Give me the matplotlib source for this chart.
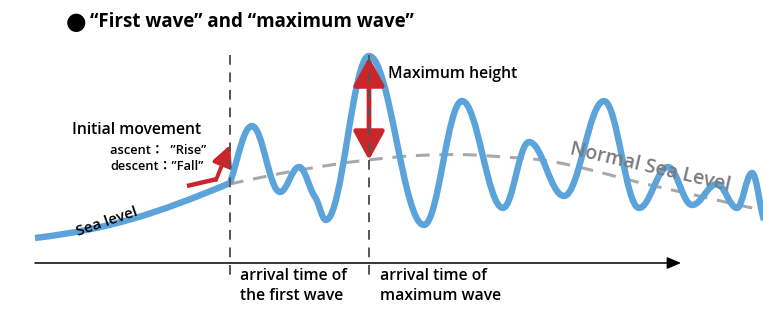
import matplotlib
matplotlib.use("Agg")
import matplotlib.pyplot as plt
from matplotlib.path import Path
from matplotlib.patches import PathPatch, FancyArrowPatch

plt.rcParams['font.family'] = ['Open Sans', 'Noto Sans CJK JP', 'DejaVu Sans']

# sea level before the first wave (pixel coords, y grows downward)
sea_x = [35, 230]
sea_y = [238, 183]
sea_slope = [-0.12, -0.42]

# tsunami wave: peaks and troughs
wave_x = [230, 252, 280, 299, 315, 326, 369, 424, 462, 503, 529, 564, 604, 639, 668, 692, 717, 737, 752, 764]
wave_y = [183, 126, 192, 167, 197, 220, 56, 225, 101, 208, 142, 196, 101, 208, 167, 205, 184, 208, 173, 220]
wave_slope = [-3, 0, 0, 0, 1.4, 0, 0, 0, 0, 0, 0, 0, 0, 0, 0, 0, 0, 0, 0, 3]

# normal sea level (grey dashed)
normal_x = [230, 300, 368, 430, 490, 560, 650, 752]
normal_y = [184, 170, 160, 155, 156, 163, 185, 208]
normal_slope = [-0.22, -0.17, -0.11, -0.03, 0.08, 0.2, 0.23, 0.23]

first_arrival = 230
max_arrival = 369

BLUE = '#5ba3db'
RED = '#c9252b'


def smooth_path(xs, ys, ss, k=0.38):
    verts = [(xs[0], ys[0])]
    codes = [Path.MOVETO]
    for i in range(len(xs) - 1):
        dx = xs[i + 1] - xs[i]
        verts += [(xs[i] + k * dx, ys[i] + k * dx * ss[i]),
                  (xs[i + 1] - k * dx, ys[i + 1] - k * dx * ss[i + 1]),
                  (xs[i + 1], ys[i + 1])]
        codes += [Path.CURVE4] * 3
    return Path(verts, codes)


fig = plt.figure(figsize=(7.63, 3.15), dpi=100)
ax = fig.add_axes([0, 0, 1, 1])
ax.set_xlim(0, 763)
ax.set_ylim(315, 0)
ax.axis('off')

# normal sea level
ax.add_patch(PathPatch(smooth_path(normal_x, normal_y, normal_slope), fill=False,
                       edgecolor='#a8a8a8', lw=2.2, linestyle=(0, (4.5, 3.2))))

# vertical dashed lines
for x in [first_arrival, max_arrival]:
    ax.plot([x, x], [55, 280], color='#555555', lw=1.4, linestyle=(0, (5, 4)))

# wave
ax.add_patch(PathPatch(smooth_path(sea_x, sea_y, sea_slope), fill=False,
                       edgecolor=BLUE, lw=4.6, capstyle='butt'))
ax.add_patch(PathPatch(smooth_path(wave_x, wave_y, wave_slope), fill=False,
                       edgecolor=BLUE, lw=4.6, capstyle='butt', joinstyle='round'))

# time axis
ax.add_patch(FancyArrowPatch((35, 263), (681, 263), arrowstyle='-|>,head_length=0.7,head_width=0.3',
                             mutation_scale=12, color='black', lw=1.1, shrinkA=0, shrinkB=0))

# maximum height arrow
ax.add_patch(FancyArrowPatch((max_arrival, 160), (max_arrival, 57),
                             arrowstyle='<|-|>,head_length=1.1,head_width=0.6',
                             mutation_scale=16, color=RED, lw=3.4, shrinkA=0, shrinkB=0))

# initial movement arrow
ax.plot([187, 217], [186, 179], color=RED, lw=3.2, solid_capstyle='butt')
ax.add_patch(FancyArrowPatch((216, 180), (230, 145), arrowstyle='-|>,head_length=1.0,head_width=0.5',
                             mutation_scale=12, color=RED, lw=2.8, shrinkA=0, shrinkB=0))

# texts
ax.text(66, 22, '●', fontsize=17, ha='left', va='center', family='DejaVu Sans')
ax.text(90, 22, '“First wave” and “maximum wave”', fontsize=13.5, fontweight='bold',
        ha='left', va='center')
ax.text(388, 74, 'Maximum height', fontsize=11.3, fontweight='semibold', ha='left', va='center')
ax.text(72, 130, 'Initial movement', fontsize=11.3, fontweight='semibold', ha='left', va='center')
ax.text(110, 150, 'ascent：  ”Rise”', fontsize=9.3, fontweight='semibold', ha='left', va='center')
ax.text(110, 166, 'descent：”Fall”', fontsize=9.3, fontweight='semibold', ha='left', va='center')
ax.text(107, 222, 'Sea level', fontsize=11, fontweight='semibold', rotation=19,
        rotation_mode='anchor', ha='center', va='center')
ax.text(650, 168, 'Normal Sea Level', fontsize=14, fontweight='semibold', color='#7a7a7a',
        rotation=-13, rotation_mode='anchor', ha='center', va='center')
ax.text(240, 286, 'arrival time of\nthe first wave', fontsize=11.3, fontweight='semibold',
        ha='left', va='center', linespacing=1.4)
ax.text(380, 286, 'arrival time of\nmaximum wave', fontsize=11.3, fontweight='semibold',
        ha='left', va='center', linespacing=1.4)

fig.savefig('out.png', dpi=100)
